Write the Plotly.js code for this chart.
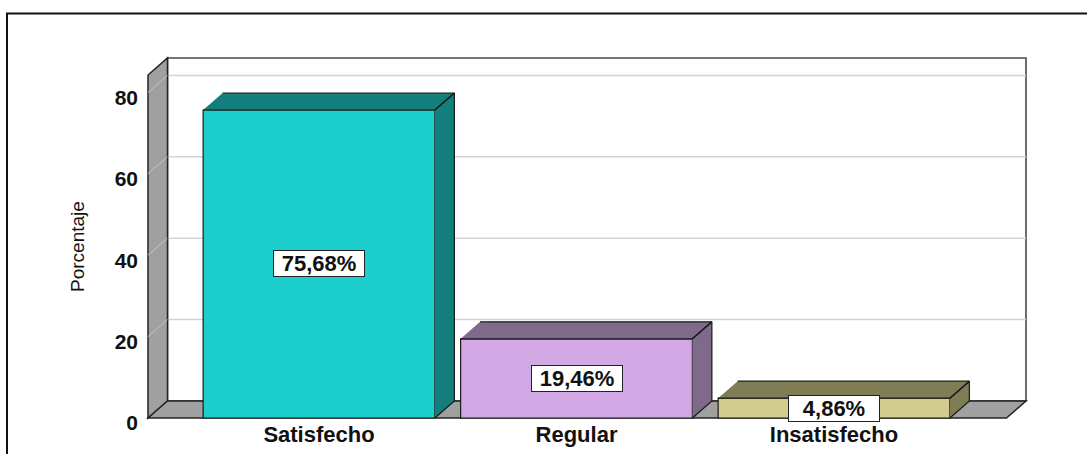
<!DOCTYPE html>
<html>
<head>
<meta charset="utf-8">
<script src="https://cdn.plot.ly/plotly-3.0.1.min.js"></script>
<style>
  html, body { margin: 0; padding: 0; background: #ffffff; }
  #chart { width: 1087px; height: 454px; }
</style>
</head>
<body>
<div id="chart"></div>
<script>
// ---------- data ----------
const categories = ['Satisfecho', 'Regular', 'Insatisfecho'];
const values = [75.68, 19.46, 4.86];
const valueLabels = ['75,68%', '19,46%', '4,86%'];
const yTickVals = [0, 20, 40, 60, 80];
const yTickText = ['0', '20', '40', '60', '80'];
const yAxisTitle = 'Porcentaje';

// ---------- styles ----------
const frontColors = ['#1ccfcd', '#d2a9e4', '#d1cc8f'];
const sideColors = ['#137f7c', '#7f6a8c', '#807d56'];
const edgeColor = '#1a1a1a';
const wallColor = '#a0a0a0';
const gridColor = '#d4d4d4';

// ---------- geometry (pixel model of the 3D frame) ----------
const W = 1087, H = 454;
const M = { l: 139, r: 52, t: 52, b: 28 };
const CAT0_PX = 319, PX_PER_CAT = 257.5;   // horizontal scale
const ZERO_PY = 418, PX_PER_UNIT = 4.07;   // vertical scale
const xRange = [(M.l - CAT0_PX) / PX_PER_CAT, (W - M.r - CAT0_PX) / PX_PER_CAT];
const yRange = [(ZERO_PY - (H - M.b)) / PX_PER_UNIT, (ZERO_PY - M.t) / PX_PER_UNIT];
const DX = 19.5 / PX_PER_CAT;              // depth offset (x)
const DY = 17 / PX_PER_UNIT;               // depth offset (y)
const xFrontL = (148 - CAT0_PX) / PX_PER_CAT;
const xBackR = (1026 - CAT0_PX) / PX_PER_CAT;
const xBackL = xFrontL + DX;
const xFrontR = xBackR - DX;
const yBackTop = (ZERO_PY - 58) / PX_PER_UNIT;
const yFrontTop = yBackTop - DY;
const BAR_W = 0.9;

function pathOf(pts) {
  return 'M' + pts.map(p => p[0] + ',' + p[1]).join(' L') + ' Z';
}
const px2paperX = px => (px - M.l) / (W - M.l - M.r);
const py2paperY = py => (H - M.b - py) / (H - M.t - M.b);

const shapes = [];
// back wall
shapes.push({ type: 'path', layer: 'below', xref: 'x', yref: 'y',
  path: pathOf([[xBackL, DY], [xBackR, DY], [xBackR, yBackTop], [xBackL, yBackTop]]),
  fillcolor: '#ffffff', line: { color: '#4a4a4a', width: 1.6 } });
// gridlines on back wall
yTickVals.filter(v => v > 0).forEach(v => {
  shapes.push({ type: 'line', layer: 'below', xref: 'x', yref: 'y',
    x0: xBackL, x1: xBackR, y0: v + DY, y1: v + DY,
    line: { color: gridColor, width: 1.5 } });
});
// left wall
shapes.push({ type: 'path', layer: 'below', xref: 'x', yref: 'y',
  path: pathOf([[xFrontL, 0], [xBackL, DY], [xBackL, yBackTop], [xFrontL, yFrontTop]]),
  fillcolor: wallColor, line: { color: '#222222', width: 1.5 } });
// diagonal grid marks on left wall
yTickVals.forEach(v => {
  shapes.push({ type: 'line', layer: 'below', xref: 'x', yref: 'y',
    x0: xFrontL, x1: xBackL, y0: v, y1: v + DY,
    line: { color: '#c4c4c4', width: 1 } });
});
// floor
shapes.push({ type: 'path', layer: 'below', xref: 'x', yref: 'y',
  path: pathOf([[xFrontL, 0], [xFrontR, 0], [xBackR, DY], [xBackL, DY]]),
  fillcolor: wallColor, line: { color: '#222222', width: 1.5 } });
// outer frame
shapes.push({ type: 'rect', layer: 'above', xref: 'paper', yref: 'paper',
  x0: px2paperX(7), x1: px2paperX(1100), y0: py2paperY(470), y1: py2paperY(13.5),
  line: { color: '#111111', width: 2 }, fillcolor: 'rgba(0,0,0,0)' });

// ---------- traces ----------
const traces = [];
traces.push({
  type: 'bar', x: categories.map((c, i) => i), y: values, width: BAR_W,
  marker: { color: frontColors, line: { color: edgeColor, width: 1.2 } },
  hoverinfo: 'skip', showlegend: false
});
values.forEach((v, i) => {
  const xl = i - BAR_W / 2, xr = i + BAR_W / 2;
  const top = [[xl, v], [xr, v], [xr + DX, v + DY], [xl + DX, v + DY]];
  const side = [[xr, 0], [xr + DX, DY], [xr + DX, v + DY], [xr, v]];
  const xs = top.map(p => p[0]).concat([null], side.map(p => p[0]));
  const ys = top.map(p => p[1]).concat([null], side.map(p => p[1]));
  traces.push({
    type: 'scatter', mode: 'lines', x: xs, y: ys, fill: 'toself',
    fillcolor: sideColors[i], line: { color: edgeColor, width: 1.2 },
    hoverinfo: 'skip', showlegend: false
  });
});

const annotations = values.map((v, i) => ({
  x: i, y: v / 2, xref: 'x', yref: 'y', text: valueLabels[i], showarrow: false,
  font: { family: 'Liberation Sans, Arial, sans-serif', size: 22, weight: 700, color: '#111111' },
  bgcolor: '#ffffff', bordercolor: '#222222', borderwidth: 1, borderpad: 1,
  width: 88, height: 23
}));
// y-axis title (placed as rotated text beside the axis)
annotations.push({
  xref: 'paper', yref: 'paper', x: px2paperX(77), y: py2paperY(247),
  xanchor: 'center', yanchor: 'middle', textangle: -90, showarrow: false,
  text: yAxisTitle,
  font: { family: 'Liberation Sans, Arial, sans-serif', size: 19, color: '#111111' }
});

const layout = {
  width: W, height: H,
  margin: M,
  paper_bgcolor: '#ffffff', plot_bgcolor: '#ffffff',
  showlegend: false,
  xaxis: {
    range: xRange, tickvals: categories.map((c, i) => i), ticktext: categories,
    showgrid: false, zeroline: false, showline: false, ticks: '',
    ticklabelstandoff: -7,
    tickfont: { family: 'Liberation Sans, Arial, sans-serif', size: 22, weight: 700, color: '#111111' },
    fixedrange: true
  },
  yaxis: {
    range: yRange, tickvals: yTickVals, ticktext: yTickText,
    showgrid: false, zeroline: false, showline: false, ticks: '',
    ticklabelshift: 5,
    tickfont: { family: 'Liberation Sans, Arial, sans-serif', size: 21, weight: 700, color: '#111111' },
    fixedrange: true
  },
  shapes: shapes,
  annotations: annotations
};

Plotly.newPlot('chart', traces, layout, { displayModeBar: false, staticPlot: true });
</script>
</body>
</html>
